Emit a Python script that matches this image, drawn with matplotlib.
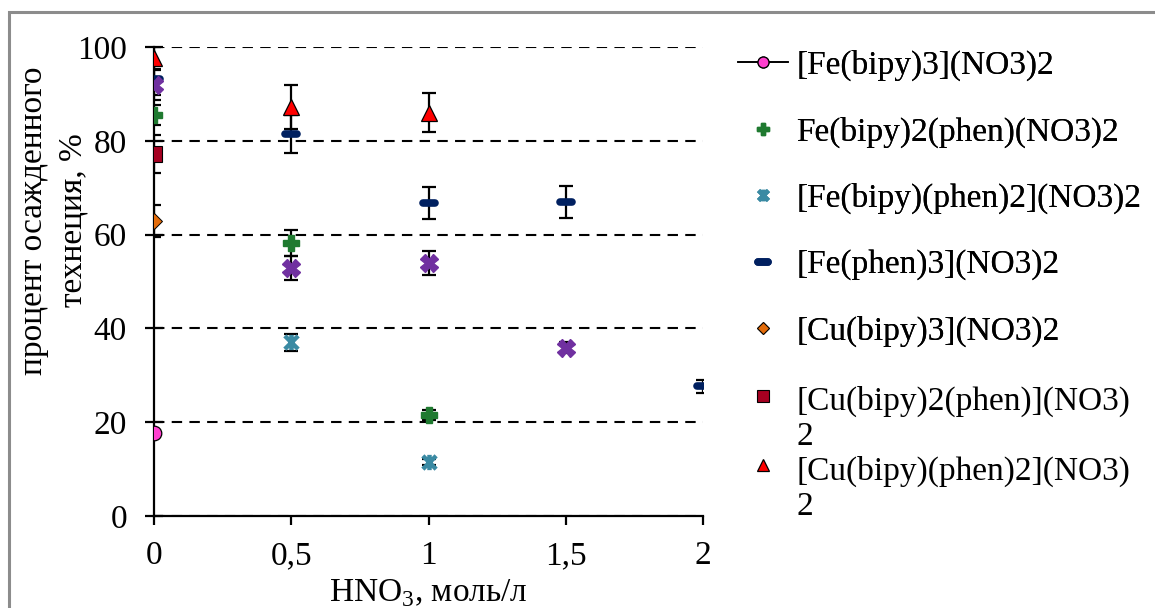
import matplotlib
matplotlib.use("Agg")
import matplotlib.pyplot as plt
from matplotlib.legend_handler import HandlerLine2D
from matplotlib.markers import MarkerStyle
from matplotlib.patches import Rectangle
from matplotlib.path import Path

plt.rcParams['font.family'] = ['Liberation Serif', 'DejaVu Serif']
plt.rcParams['mathtext.fontset'] = 'custom'
plt.rcParams['mathtext.rm'] = 'Liberation Serif'

# ---- data ----
x_ticks = [0, 0.5, 1, 1.5, 2]
x_tick_labels = ['0', '0,5', '1', '1,5', '2']
y_ticks = [0, 20, 40, 60, 80, 100]

fe_bipy3_x = [0]
fe_bipy3_y = [17.7]

fe_bipy2phen_x = [0, 0.5, 1]
fe_bipy2phen_y = [85.5, 58.2, 21.5]
fe_bipy2phen_err = [2.1, 2.8, 1.0]

fe_bipyphen2_x = [0, 0.5, 1]
fe_bipyphen2_y = [77.2, 37.0, 11.5]
fe_bipyphen2_err = [1.0, 1.9, 0.6]

fe_phen3_x = [0, 0.5, 1, 1.5, 2]
fe_phen3_y = [93.2, 81.5, 66.7, 67.0, 27.7]
fe_phen3_err = [3.4, 4.1, 3.4, 3.4, 1.4]

cu_bipy3_x = [0]
cu_bipy3_y = [62.9]
cu_bipy3_err = [3.4]

cu_bipy2phen_x = [0]
cu_bipy2phen_y = [77.2]
cu_bipy2phen_err = [4.0]

cu_bipyphen2_x = [0, 0.5, 1]
cu_bipyphen2_y = [97.7, 87.2, 86.0]
cu_bipyphen2_err = [2.3, 4.7, 4.2]

extra_x = [0, 0.5, 1, 1.5]
extra_y = [91.9, 52.9, 53.9, 35.9]
extra_err = [3.2, 2.6, 2.6, 1.2]

labels = ['[Fe(bipy)3](NO3)2', 'Fe(bipy)2(phen)(NO3)2', '[Fe(bipy)(phen)2](NO3)2',
          '[Fe(phen)3](NO3)2', '[Cu(bipy)3](NO3)2', '[Cu(bipy)2(phen)](NO3)\n2',
          '[Cu(bipy)(phen)2](NO3)\n2']

# ---- figure ----
W, H = 1155, 608
fig = plt.figure(figsize=(W / 100, H / 100), dpi=100)
ax = fig.add_axes([154 / W, 1 - 516 / H, (703 - 154) / W, (516 - 47) / H])

fig.patches.append(Rectangle((9 / W, -0.1), 1.2, 1 - 12 / H + 0.1, transform=fig.transFigure,
                             fill=False, edgecolor='#8c8c8c', linewidth=2.2, zorder=-5))

ebkw = dict(ecolor='black', elinewidth=1.6, capsize=5, capthick=1.6, zorder=2)

star_path = Path([(-1, -1), (1, 1), (-1, 1), (1, -1), (0, -1.15), (0, 1.15)],
                 [Path.MOVETO, Path.LINETO, Path.MOVETO, Path.LINETO, Path.MOVETO, Path.LINETO])
dash_marker = MarkerStyle('_', capstyle='round')

h1, = ax.plot(fe_bipy3_x, fe_bipy3_y, '-', color='black', lw=1.2, marker='o', ms=10.5,
              mfc='#ff3fcf', mec='black', mew=0.9, zorder=3, label=labels[0])

ax.errorbar(fe_bipy2phen_x, fe_bipy2phen_y, yerr=fe_bipy2phen_err, fmt='none', **ebkw)
h2, = ax.plot(fe_bipy2phen_x, fe_bipy2phen_y, ls='none', marker='P', ms=11,
              color='#1f7a30', mec='#1f7a30', zorder=3, label=labels[1])

ax.errorbar(fe_bipyphen2_x, fe_bipyphen2_y, yerr=fe_bipyphen2_err, fmt='none', **ebkw)
h3, = ax.plot(fe_bipyphen2_x, fe_bipyphen2_y, ls='none', marker=star_path, ms=11, mew=3.2,
              color='#3a8aa3', zorder=3, label=labels[2])

ax.errorbar(fe_phen3_x, fe_phen3_y, yerr=fe_phen3_err, fmt='none', **ebkw)
h4, = ax.plot(fe_phen3_x, fe_phen3_y, ls='none', marker=dash_marker, ms=9, mew=5.5,
              color='#002060', zorder=3, label=labels[3])

ax.errorbar(cu_bipy3_x, cu_bipy3_y, yerr=cu_bipy3_err, fmt='none', **ebkw)
h5, = ax.plot(cu_bipy3_x, cu_bipy3_y, ls='none', marker='D', ms=8, mfc='#e46c0a',
              mec='black', mew=0.7, zorder=3, label=labels[4])

ax.errorbar(cu_bipy2phen_x, cu_bipy2phen_y, yerr=cu_bipy2phen_err, fmt='none', **ebkw)
h6, = ax.plot(cu_bipy2phen_x, cu_bipy2phen_y, ls='none', marker='s', ms=11.5, mfc='#a50021',
              mec='black', mew=0.8, zorder=3, label=labels[5])

ax.errorbar(cu_bipyphen2_x, cu_bipyphen2_y, yerr=cu_bipyphen2_err, fmt='none', **ebkw)
h7, = ax.plot(cu_bipyphen2_x, cu_bipyphen2_y, ls='none', marker='^', ms=12, mfc='#ff0000',
              mec='black', mew=0.9, zorder=3, label=labels[6])

ax.errorbar(extra_x, extra_y, yerr=extra_err, fmt='none', **ebkw)
ax.plot(extra_x, extra_y, ls='none', marker='X', ms=12.5, color='#7030a0', mec='#7030a0',
        zorder=3.5)

# axes styling
ax.set_xlim(0, 2)
ax.set_ylim(0, 100)
ax.set_xticks(x_ticks)
ax.set_xticklabels(x_tick_labels)
ax.set_yticks(y_ticks)
for s in ['top', 'right']:
    ax.spines[s].set_visible(False)
for s in ['left', 'bottom']:
    ax.spines[s].set_linewidth(1.6)
    ax.spines[s].set_zorder(1)
ax.tick_params(axis='y', direction='inout', length=13, width=1.6, labelsize=24, pad=13)
ax.tick_params(axis='x', direction='out', length=6.5, width=1.6, labelsize=24, pad=11)
ax.yaxis.grid(True, color='black', linestyle=(0, (5, 3.5)), linewidth=1.5)
ax.set_axisbelow(True)
ax.patch.set_visible(False)

ax.set_xlabel('HNO$_3$, моль/л', fontsize=24, labelpad=5)
ax.set_ylabel('процент осажденного\nтехнеция, %', fontsize=24, linespacing=1.35)
ax.yaxis.set_label_coords(-0.12, 0.63)


class ShiftHandler(HandlerLine2D):
    def __init__(self, shift, **kw):
        super().__init__(**kw)
        self.shift = shift

    def create_artists(self, legend, orig_handle, xdescent, ydescent, width, height,
                       fontsize, trans):
        return super().create_artists(legend, orig_handle, xdescent,
                                      ydescent - 2 * self.shift, width, height,
                                      fontsize, trans)


leg1 = fig.legend(handles=[h1, h2, h3, h4, h5], loc='upper left',
                  bbox_to_anchor=(738 / W, 1 - 50 / H), frameon=False, fontsize=24,
                  handlelength=1.5, handletextpad=0.25, labelspacing=1.06,
                  borderaxespad=0, borderpad=0, markerscale=0.75)
fig.add_artist(leg1)
shift = 17
leg2 = fig.legend(handles=[h6, h7], loc='upper left',
                  bbox_to_anchor=(738 / W, 1 - 386 / H), frameon=False, fontsize=24,
                  handlelength=1.5, handletextpad=0.25, labelspacing=0.1,
                  borderaxespad=0, borderpad=0, markerscale=0.75,
                  handler_map={h6: ShiftHandler(shift), h7: ShiftHandler(shift)})
for t in leg2.get_texts():
    t.set_linespacing(1.2)

fig.savefig('out.png', dpi=100)
